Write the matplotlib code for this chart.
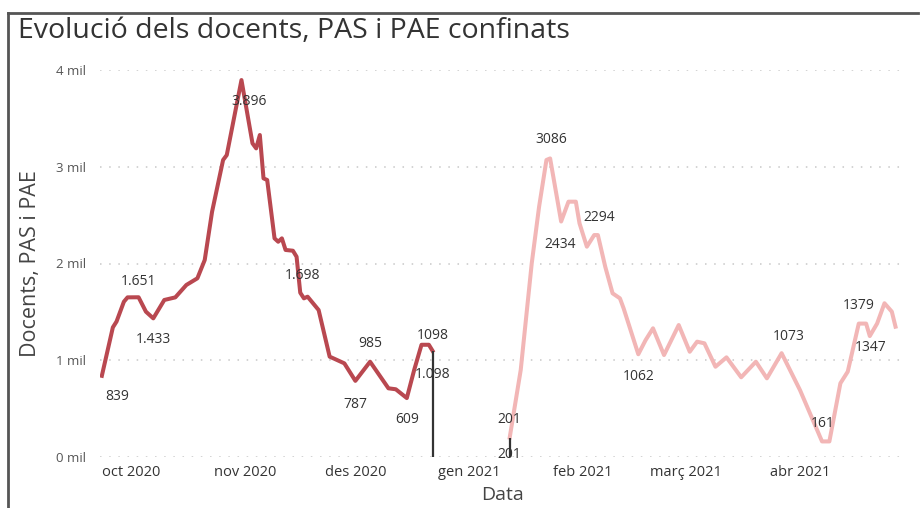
import matplotlib
matplotlib.use("Agg")
import matplotlib.pyplot as plt
import pandas as pd

plt.rcParams['font.family'] = ['Open Sans', 'DejaVu Sans']

# primer trimestre (set-des 2020)
dates_1 = ["2020-09-23", "2020-09-26", "2020-09-27", "2020-09-29", "2020-09-30",
           "2020-10-03", "2020-10-05", "2020-10-07", "2020-10-10", "2020-10-13",
           "2020-10-16", "2020-10-19", "2020-10-21", "2020-10-23", "2020-10-26",
           "2020-10-27", "2020-10-31", "2020-11-03", "2020-11-04", "2020-11-05",
           "2020-11-06", "2020-11-07", "2020-11-09", "2020-11-10", "2020-11-11",
           "2020-11-12", "2020-11-14", "2020-11-15", "2020-11-16", "2020-11-17",
           "2020-11-18", "2020-11-21", "2020-11-24", "2020-11-25", "2020-11-28",
           "2020-12-01", "2020-12-05", "2020-12-10", "2020-12-12", "2020-12-15",
           "2020-12-17", "2020-12-19", "2020-12-21", "2020-12-22"]
values_1 = [839, 1340, 1400, 1605, 1650,
            1651, 1502, 1433, 1623, 1650,
            1778, 1847, 2036, 2535, 3070,
            3121, 3896, 3242, 3190, 3328,
            2880, 2863, 2260, 2225, 2260,
            2140, 2132, 2070, 1698, 1640,
            1657, 1519, 1037, 1020, 968,
            787, 985, 710, 700, 609,
            899, 1160, 1160, 1098]

# segon i tercer trimestre (gen-abr 2021)
dates_2 = ["2021-01-12", "2021-01-15", "2021-01-18", "2021-01-20", "2021-01-22",
           "2021-01-23", "2021-01-26", "2021-01-28", "2021-01-30", "2021-01-31",
           "2021-02-02", "2021-02-04", "2021-02-05", "2021-02-07", "2021-02-09",
           "2021-02-11", "2021-02-12", "2021-02-16", "2021-02-18", "2021-02-20",
           "2021-02-23", "2021-02-27", "2021-03-02", "2021-03-04", "2021-03-06",
           "2021-03-09", "2021-03-12", "2021-03-16", "2021-03-20", "2021-03-23",
           "2021-03-27", "2021-04-01", "2021-04-07", "2021-04-09", "2021-04-12",
           "2021-04-14", "2021-04-17", "2021-04-19", "2021-04-20", "2021-04-22",
           "2021-04-24", "2021-04-26", "2021-04-27"]
values_2 = [201, 899, 2002, 2587, 3070,
            3086, 2434, 2639, 2639, 2415,
            2174, 2294, 2294, 1967, 1692,
            1640, 1537, 1062, 1209, 1330,
            1054, 1364, 1088, 1192, 1175,
            933, 1030, 824, 985, 813,
            1073, 692, 161, 161, 762,
            882, 1379, 1379, 1250, 1380,
            1589, 1502, 1347]

# etiquetes: (serie, index del punt, text, desplaçament en px)
labels = [
    (1, 0, "839", (15, -21)),
    (1, 5, "1.651", (0, 16)),
    (1, 7, "1.433", (0, -21)),
    (1, 16, "3.896", (8, -21)),
    (1, 28, "1.698", (2, 17)),
    (1, 36, "985", (0, 18)),
    (1, 35, "787", (0, -24)),
    (1, 39, "609", (0, -21)),
    (1, 43, "1098", (0, 15)),
    (1, 43, "1.098", (0, -24)),
    (2, 0, "201", (0, 18)),
    (2, 0, "201", (0, -17)),
    (2, 5, "3086", (1, 19)),
    (2, 6, "2434", (-1, -23)),
    (2, 11, "2294", (5, 18)),
    (2, 17, "1062", (0, -22)),
    (2, 30, "1073", (7, 17)),
    (2, 32, "161", (1, 18)),
    (2, 36, "1379", (0, 18)),
    (2, 42, "1347", (-25, -21)),
]

month_ticks = ["2020-10-01", "2020-11-01", "2020-12-01", "2021-01-01",
               "2021-02-01", "2021-03-01", "2021-04-01"]
month_labels = ["oct 2020", "nov 2020", "des 2020", "gen 2021",
                "feb 2021", "març 2021", "abr 2021"]
y_ticks = [0, 1000, 2000, 3000, 4000]
y_labels = ["0 mil", "1 mil", "2 mil", "3 mil", "4 mil"]

x1 = pd.to_datetime(dates_1)
x2 = pd.to_datetime(dates_2)

fig = plt.figure(figsize=(9.24, 5.08), dpi=100)
ax = fig.add_axes([100 / 924, 1 - 457 / 508, 805 / 924, 387 / 508])

for v in y_ticks:
    ax.axhline(v, color="#c8c8c8", lw=1.1, ls=(0, (1, 5)), zorder=0)

ax.plot(x1, values_1, color="#b94850", lw=2.9, solid_joinstyle="round", zorder=3)
ax.plot(x2, values_2, color="#f2b6b6", lw=2.9, solid_joinstyle="round", zorder=3)

# línies verticals als extrems
ax.vlines(x1[-1], 0, values_1[-1], color="#333333", lw=1.6, zorder=4)
ax.vlines(x2[0], 0, values_2[0], color="#333333", lw=1.6, zorder=4)

for serie, i, txt, off in labels:
    xs, ys = (x1, values_1) if serie == 1 else (x2, values_2)
    ax.annotate(txt, (xs[i], ys[i]), xytext=off, textcoords="offset pixels",
                ha="center", va="center", fontsize=10, color="#333333",
                annotation_clip=False, zorder=5)

ax.set_xlim(pd.Timestamp("2020-09-22 12:00"), pd.Timestamp("2021-04-29 14:00"))
ax.set_ylim(0, 4000)
ax.set_xticks(pd.to_datetime(month_ticks))
ax.set_xticklabels(month_labels, fontsize=10.5, color="#333333")
ax.set_yticks(y_ticks)
ax.set_yticklabels(y_labels, fontsize=9.5, color="#555555")
ax.tick_params(length=0)
ax.tick_params(axis="x", pad=6)
ax.tick_params(axis="y", pad=10)
for s in ax.spines.values():
    s.set_visible(False)

ax.set_ylabel("Docents, PAS i PAE", fontsize=15.5, color="#444444", labelpad=11)
ax.set_xlabel("Data", fontsize=14, color="#444444", labelpad=4)

fig.text(18 / 924, 1 - 31 / 508, "Evolució dels docents, PAS i PAE confinats",
         fontsize=20.5, color="#333333", va="center", ha="left")

# marc exterior
fig.add_artist(plt.Line2D([8 / 924, 8 / 924], [0, 1 - 13 / 508], color="#555555", lw=2, transform=fig.transFigure))
fig.add_artist(plt.Line2D([8 / 924, 918 / 924], [1 - 13 / 508, 1 - 13 / 508], color="#555555", lw=2, transform=fig.transFigure))

fig.savefig("out.png", dpi=100)
